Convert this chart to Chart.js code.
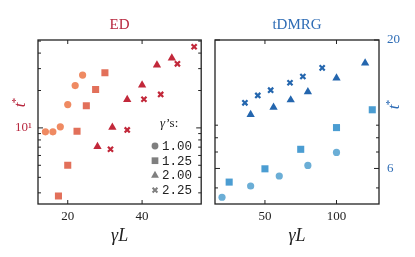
<!DOCTYPE html>
<html>
<head>
<meta charset="utf-8">
<script src="https://cdn.jsdelivr.net/npm/chart.js@4.4.0/dist/chart.umd.min.js"></script>
<style>
html, body { margin: 0; padding: 0; background: #fff; }
#wrap { position: relative; width: 415px; height: 257px; overflow: hidden; }
canvas { position: absolute; top: 0; }
</style>
</head>
<body>
<div id="wrap">
  <canvas id="ed" width="207" height="257" style="left:0"></canvas>
  <canvas id="dmrg" width="208" height="257" style="left:207px"></canvas>
</div>
<script>
var gammaLabels = ['1.00', '1.25', '2.00', '2.25'];

// ED panel
var edX1 = [14, 16, 18, 20, 22, 24];
var edY1 = [9.3, 9.3, 10.2, 15.4, 21.9, 26.6];
var edX2 = [17.5, 20, 22.5, 25, 27.5, 30];
var edY2 = [2.83, 5.0, 9.4, 15.1, 20.4, 27.8];
var edX3 = [28, 32, 36, 40, 44, 48];
var edY3 = [7.07, 10.1, 16.9, 22.1, 32.0, 36.5];
var edX4 = [31.5, 36, 40.5, 45, 49.5, 54];
var edY4 = [6.73, 9.63, 17.0, 18.6, 32.8, 45.0];

// tDMRG panel
var tdX1 = [20, 40, 60, 80, 100];
var tdY1 = [4.58, 5.09, 5.59, 6.17, 6.97];
var tdX2 = [25, 50, 75, 100, 125];
var tdY2 = [5.28, 5.98, 7.18, 8.80, 10.4];
var tdX3 = [40, 56, 68, 80, 100, 120];
var tdY3 = [9.95, 10.65, 11.4, 12.3, 14.0, 16.1];
var tdX4 = [36, 45, 54, 67.5, 76.5, 90];
var tdY4 = [11.1, 11.9, 12.5, 13.4, 14.2, 15.4];

// ticks
var edXTicks = [20, 40];
var edYTicks = [3, 4, 5, 6, 7, 8, 9, 10, 20, 30, 40, 50];
var edYLabeled = [10];
var tdXTicks = [50, 100];
var tdYTicks = [5, 6, 7, 8, 9, 20];
var tdYLabeled = [6, 20];

var edColors = ['#ef8a62', '#e2705a', '#c2283a', '#c2283a'];
var tdColors = ['#6baed6', '#4b9dd2', '#2466ae', '#2466ae'];
var styles = ['circle', 'rect', 'triangle', 'crossRot'];
var radii = [3.6, 5, 4.8, 3.6];

var serif = '"Liberation Serif", "DejaVu Serif", serif';

function pts(xs, ys) {
    var out = [];
    for (var i = 0; i < xs.length; i++) out.push({x: xs[i], y: ys[i]});
    return out;
}

function makeSets(series, colors) {
    return series.map(function(s, i) {
        return {
            label: gammaLabels[i],
            data: pts(s[0], s[1]),
            pointStyle: styles[i],
            pointRadius: radii[i],
            pointHoverRadius: radii[i],
            backgroundColor: colors[i],
            borderColor: colors[i],
            borderWidth: styles[i] == 'crossRot' ? 2.2 : 0
        };
    });
}

function setTicks(list) {
    return function(scale) {
        scale.ticks = list.map(function(v) { return {value: v}; });
    };
}

// frame, inward ticks, y title and legend
var decor = {
    id: 'decor',
    afterDraw: function(chart, args, o) {
        var ctx = chart.ctx, a = chart.chartArea;
        var xs = chart.scales.x, ys = chart.scales.y;
        ctx.save();
        ctx.strokeStyle = '#222';
        ctx.lineWidth = 1;
        xs.ticks.forEach(function(t) {
            var p = xs.getPixelForValue(t.value);
            ctx.beginPath();
            ctx.moveTo(p, a.bottom); ctx.lineTo(p, a.bottom - 4);
            ctx.moveTo(p, a.top); ctx.lineTo(p, a.top + 4);
            ctx.stroke();
        });
        ys.ticks.forEach(function(t) {
            var p = ys.getPixelForValue(t.value);
            var len = t.label ? 5 : 3;
            ctx.beginPath();
            ctx.moveTo(a.left, p); ctx.lineTo(a.left + len, p);
            ctx.moveTo(a.right, p); ctx.lineTo(a.right - len, p);
            ctx.stroke();
        });
        ctx.lineWidth = 1.3;
        ctx.strokeRect(a.left, a.top, a.right - a.left, a.bottom - a.top);

        // y title t*
        ctx.translate(o.yx, o.yy);
        ctx.rotate(-Math.PI / 2);
        ctx.fillStyle = o.color;
        ctx.font = 'italic 17px ' + serif;
        var w = ctx.measureText('t').width;
        ctx.textBaseline = 'middle';
        ctx.textAlign = 'left';
        ctx.fillText('t', -(w + 4) / 2, 0);
        ctx.font = '11px ' + serif;
        ctx.fillText('*', -(w + 4) / 2 + w - 0.5, -5);
        ctx.setTransform(1, 0, 0, 1, 0, 0);

        if (o.legend) {
            ctx.fillStyle = '#222';
            ctx.font = 'italic 13px ' + serif;
            ctx.textAlign = 'left';
            ctx.textBaseline = 'middle';
            ctx.fillText('\u03b3', 160, 124);
            ctx.font = '13px ' + serif;
            ctx.fillText('\u2019s:', 166, 124);
            ctx.font = '12.5px "Liberation Mono", monospace';
            for (var i = 0; i < 4; i++) {
                var y = 146 + i * 14.7;
                ctx.fillStyle = '#7f7f7f';
                ctx.strokeStyle = '#7f7f7f';
                ctx.lineWidth = 2;
                Chart.helpers.drawPoint(ctx, {
                    pointStyle: styles[i], radius: radii[i] * 0.95,
                    borderWidth: styles[i] == 'crossRot' ? 2 : 0, rotation: 0
                }, 155, y);
                ctx.fillStyle = '#222';
                ctx.fillText(gammaLabels[i], 162, y + 0.5);
            }
        }
        ctx.restore();
    }
};

function makeChart(id, sets, cfg) {
    return new Chart(document.getElementById(id), {
        type: 'scatter',
        data: {datasets: sets},
        plugins: [decor],
        options: {
            responsive: false,
            animation: false,
            layout: {padding: cfg.padding},
            plugins: {
                legend: {display: false},
                tooltip: {enabled: false},
                title: {
                    display: true,
                    text: cfg.title,
                    color: cfg.color,
                    fullSize: false,
                    font: {family: serif, size: 15, weight: 'normal'},
                    padding: {top: 16, bottom: 6}
                },
                decor: cfg.decor
            },
            scales: {
                x: {
                    type: 'linear',
                    min: cfg.xmin, max: cfg.xmax,
                    grid: {display: false, drawTicks: false},
                    border: {display: false},
                    afterBuildTicks: setTicks(cfg.xticks),
                    afterFit: function(s) { s.height = 53; },
                    ticks: {
                        autoSkip: false, padding: 5, color: '#222',
                        font: {family: serif, size: 13},
                        callback: function(v) { return String(v); }
                    },
                    title: {
                        display: true, text: '\u03b3L', color: '#222',
                        font: {family: serif, size: 18, style: 'italic'},
                        padding: {top: 0, bottom: 10}
                    }
                },
                y: {
                    type: 'logarithmic',
                    position: cfg.ypos,
                    min: cfg.ymin, max: cfg.ymax,
                    grid: {display: false, drawTicks: false},
                    border: {display: false},
                    afterBuildTicks: setTicks(cfg.yticks),
                    afterFit: function(s) { s.width = cfg.ywidth; },
                    ticks: {
                        autoSkip: false, padding: cfg.ypad, color: cfg.color,
                        font: {family: serif, size: 13},
                        callback: cfg.ylabel
                    }
                }
            }
        }
    });
}

makeChart('ed', makeSets([[edX1, edY1], [edX2, edY2], [edX3, edY3], [edX4, edY4]], edColors), {
    title: 'ED', color: '#b8283f',
    padding: {left: 0, right: 4, top: 0, bottom: 0},
    xmin: 12, xmax: 55.9, xticks: edXTicks,
    ymin: 2.44, ymax: 51, yticks: edYTicks, ypos: 'left', ywidth: 38, ypad: 6,
    ylabel: function(v) { return edYLabeled.indexOf(v) >= 0 ? '10\u00b9' : ''; },
    decor: {yx: 21, yy: 103, color: '#b8283f', legend: true}
});

makeChart('dmrg', makeSets([[tdX1, tdY1], [tdX2, tdY2], [tdX3, tdY3], [tdX4, tdY4]], tdColors), {
    title: 'tDMRG', color: '#2e6cb5',
    padding: {left: 8, right: 0, top: 0, bottom: 0},
    xmin: 15.1, xmax: 129.7, xticks: tdXTicks,
    ymin: 4.3, ymax: 20, yticks: tdYTicks, ypos: 'right', ywidth: 36, ypad: 8,
    ylabel: function(v) { return tdYLabeled.indexOf(v) >= 0 ? String(v) : ''; },
    decor: {yx: 188, yy: 105, color: '#2e6cb5', legend: false}
});
</script>
</body>
</html>
